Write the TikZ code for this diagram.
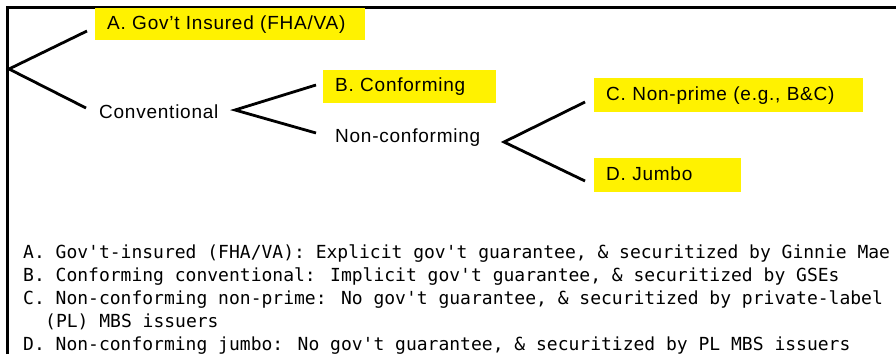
\documentclass[tikz,border=0pt]{standalone}
\usepackage{fontspec}
\setmainfont{Liberation Sans}[LetterSpace=4.0]
\newfontfamily\monof{DejaVu Sans Mono}
\usetikzlibrary{calc}
\begin{document}
\begin{tikzpicture}[x=1pt,y=-1pt,
  frame/.style={line width=3pt},
  branch/.style={line width=2.8pt, line join=miter},
  ybox/.style={fill=yellow, anchor=west, inner xsep=12pt, inner ysep=0pt, align=left,
    font=\fontsize{19}{19}\selectfont, text height=14pt, text depth=4pt},
  lbl/.style={anchor=west, inner sep=0pt, font=\fontsize{19}{19}\selectfont, text height=14pt, text depth=4pt},
  note/.style={anchor=base west, inner sep=0pt, font=\monof\fontsize{18}{18}\selectfont}
]
\useasboundingbox (0,0) rectangle (896,354);
\draw[frame] (7.5,354) -- (7.5,7.5) -- (896,7.5);

\node[ybox, text width=246pt, minimum height=32pt] (A) at (95,24) {A. Gov't Insured (FHA/VA)};
\node[lbl] (conv) at (99,113) {Conventional};
\node[ybox, text width=149pt, minimum height=33pt] (B) at (323,86.5) {B. Conforming};
\node[lbl] (ncf) at (335,137) {Non-conforming};
\node[ybox, text width=245pt, minimum height=34pt] (C) at (594,95) {C. Non-prime (e.g., B\&C)};
\node[ybox, text width=123pt, minimum height=34pt] (D) at (594,175) {D. Jumbo};

\coordinate (v0) at (9,69);
\coordinate (v1) at (235,110);
\coordinate (v2) at (504,142);
\draw[branch] ($(A.west)+(-8,7)$) -- (v0) -- ($(conv.west)+(-13,-5)$);
\draw[branch] ($(B.west)+(-7,-1.5)$) -- (v1) -- ($(ncf.west)+(-19,-4)$);
\draw[branch] ($(C.west)+(-9,7)$) -- (v2) -- ($(D.west)+(-9,6)$);

\node[note] (na) at (23,258) {A. Gov't-insured (FHA/VA): Explicit gov't guarantee, \& securitized by Ginnie Mae};
\node[note] (nb) at (23,281) {B. Conforming conventional: Implicit gov't guarantee, \& securitized by GSEs};
\node[note] (nc) at (23,304) {C. Non-conforming non-prime: No gov't guarantee, \& securitized by private-label};
\node[note] (nc2) at (45,327) {(PL) MBS issuers};
\node[note] (nd) at (23,350) {D. Non-conforming jumbo: No gov't guarantee, \& securitized by PL MBS issuers};
\end{tikzpicture}
\end{document}
